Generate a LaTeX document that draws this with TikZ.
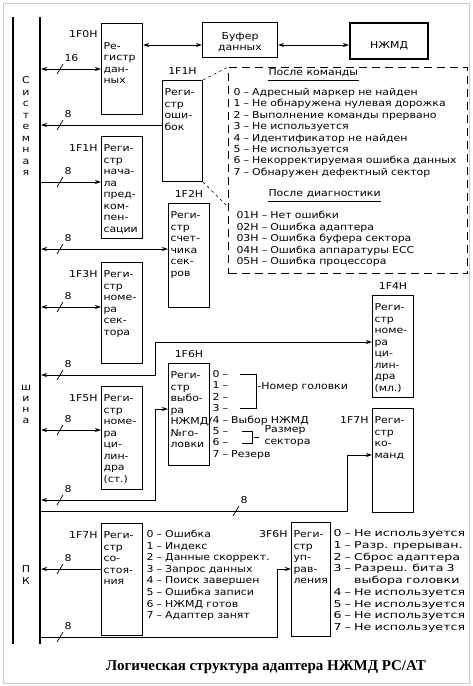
\documentclass[tikz,border=0pt]{standalone}
\usepackage{fontspec}
\setmainfont{DejaVu Sans}[FakeStretch=1.15]
\newfontfamily\capfont{Liberation Serif}
\newfontfamily\widefont{DejaVu Sans}[FakeStretch=1.33]
\usetikzlibrary{arrows.meta,positioning}

\begin{document}
\begin{tikzpicture}[x=1pt,y=-1pt,line width=1pt,
    font=\fontsize{9.5}{11.5}\selectfont,
    >={Stealth[length=6pt,width=4pt]},
    reg/.style={draw,anchor=north west,align=left,text width=37pt,inner xsep=2pt,inner ysep=3pt,text height=12pt},
    adr/.style={inner sep=0pt},
    bits/.style={anchor=base west,align=left,inner sep=0pt,text width=#1},
    letters/.style={anchor=base,align=center,inner sep=0pt,text width=10pt},
    buswire/.style={line width=2.5pt}]
    \useasboundingbox (0,0) rectangle (472,686);
    \draw[line width=0.6pt,black!20] (3,3) rectangle (469,683);

    \draw[buswire] (13,17) -- (13,644);
    \draw[buswire] (40,17) -- (40,644);
    \node[letters] (sbus1) at (26,83.5) {С\\и\\с\\т\\е\\м\\н\\а\\я};
    \node[letters,font=\fontsize{9.5}{11}\selectfont] (sbus2) at (26,390.5) {ш\\и\\н\\а};
    \node[letters,font=\fontsize{9.5}{12}\selectfont] (sbus3) at (26,572.5) {П\\К};

    % registers
    \node[reg,text height=22.5pt,text depth=62.5pt] (rdat) at (101,23) {Ре-\\гистр\\дан-\\ных};
    \node[draw,anchor=north west,align=center,text width=69pt,inner sep=3pt,text height=13.5pt,text depth=15.5pt] (buf) at (202,22) {Буфер\\данных};
    \node[draw,line width=2.2pt,anchor=north west,minimum width=78pt,inner sep=3pt,text height=22.5pt,text depth=7.5pt] (hdd) at (349,22) {НЖМД};
    \node[reg,text width=36pt,text depth=83pt] (rerr) at (162,80) {Реги-\\стр\\оши-\\бок};
    \node[reg,text depth=84pt] (rpre) at (101,136) {Реги-\\стр\\нача-\\ла\\пред-\\ком-\\пен-\\сации};
    \node[reg,text depth=86pt] (rsec) at (168,203) {Реги-\\стр\\счет-\\чика\\сек-\\ров};
    \node[reg,text depth=83pt] (rsnum) at (101,262) {Реги-\\стр\\номе-\\ра\\сек-\\тора};
    \node[reg,text depth=84pt] (rcyllo) at (372,295) {Реги-\\стр\\номе-\\ра\\ци-\\лин-\\дра\\(мл.)};
    \node[reg,text depth=85pt] (rcylhi) at (101,386) {Реги-\\стр\\номе-\\ра\\ци-\\лин-\\дра\\(ст.)};
    \node[reg,text depth=84pt] (rdrv) at (168,363) {Реги-\\стр\\выбо-\\ра\\НЖМД/\\№го-\\ловки};
    \node[reg,text depth=86pt] (rcmd) at (372,408) {Реги-\\стр\\ко-\\манд};
    \node[reg,text depth=94pt] (rstat) at (101,523) {Реги-\\стр\\со-\\стоя-\\ния};
    \node[reg,text width=35pt,text depth=96pt] (rctl) at (291,522) {Реги-\\стр\\уп-\\рав-\\ления};

    \node[adr,anchor=base east] (a1f0) at (98,37.5) {1F0H};
    \node[adr,above=5pt of rerr] (a1f1e) {1F1H};
    \node[adr,anchor=base east] (a1f1p) at ([xshift=-3pt]rpre.base west) {1F1H};
    \node[adr,above=5pt of rsec] (a1f2) {1F2H};
    \node[adr,anchor=base east] (a1f3) at ([xshift=-3pt]rsnum.base west) {1F3H};
    \node[adr,above=5pt of rcyllo] (a1f4) {1F4H};
    \node[adr,anchor=base east] (a1f5) at ([xshift=-3pt]rcylhi.base west) {1F5H};
    \node[adr,above=5pt of rdrv] (a1f6) {1F6H};
    \node[adr,anchor=base east] (a1f7c) at ([xshift=-3pt]rcmd.base west) {1F7H};
    \node[adr,anchor=base east] (a1f7s) at ([xshift=-3pt]rstat.base west) {1F7H};
    \node[adr,anchor=base east] (a3f6) at ([xshift=-3pt]rctl.base west) {3F6H};

    % error codes
    \node[draw,dash pattern=on 8pt off 5pt,anchor=north west,minimum width=239pt,minimum height=206pt,inner sep=0pt] (elist) at (228,67) {};
    \draw[line width=0.5pt,dashed] (rerr.north east) -- (elist.north west);
    \draw[line width=0.5pt,dashed] (rerr.south east) -- (elist.west |- 0,207);
    \node[adr,anchor=base west] (hcmd) at (268,75.5) {После команды};
    \draw[line width=0.6pt] ([yshift=-4.5pt]hcmd.base west) -- ([yshift=-4.5pt]hcmd.base east);
    \node[bits=232pt,font=\fontsize{9.5}{11.4}\selectfont] (ecmd) at (233,95.5) {0 – Адресный маркер не найден\\1 – Не обнаружена нулевая дорожка\\2 – Выполнение команды прервано\\3 – Не используется\\4 – Идентификатор не найден\\5 – Не используется\\6 – Некорректируемая ошибка данных\\7 – Обнаружен дефектный сектор};
    \node[adr,anchor=base west] (hdiag) at (268,196.5) {После диагностики};
    \draw[line width=0.6pt] ([yshift=-4.5pt]hdiag.base west) -- ([yshift=-4.5pt]hdiag.base east);
    \node[bits=200pt] (ediag) at (236,218.5) {01H – Нет ошибки\\02H – Ошибка адаптера\\03H – Ошибка буфера сектора\\04H – Ошибка аппаратуры ECC\\05H – Ошибка процессора};

    % drive/head bits
    \node[bits=100pt,font=\fontsize{9.5}{11.4}\selectfont] (bdrv) at (212,377.5) {0 –\\1 –\\2 –\\3 –\\4 – Выбор НЖМД\\5 –\\6 –\\7 – Резерв};
    \draw[line width=0.7pt] (240,374) -| (256,408) -- (240,408);
    \node[adr,anchor=west] (nhead) at (257,387) {-Номер головки};
    \draw[line width=0.7pt] (242,431) -| (252,443) -- (242,443);
    \draw[line width=0.7pt] (254,437) -- (259,437);
    \node[adr,anchor=west,align=left] (nsize) at (264,436) {Размер\\сектора};

    \node[bits=140pt,font=\fontsize{9.5}{11.6}\selectfont] (bstat) at (146,537.5) {0 – Ошибка\\1 – Индекс\\2 – Данные скоррект.\\3 – Запрос данных\\4 – Поиск завершен\\5 – Ошибка записи\\6 – НЖМД готов\\7 – Адаптер занят};
    \node[bits=140pt,font=\widefont\fontsize{9.5}{11.75}\selectfont] (bctl) at (333,536.5) {0 – Не используется\\1 – Разр. прерыван.\\2 – Сброс адаптера\\3 – Разреш. бита 3\\\phantom{3 – }выбора головки\\4 – Не используется\\5 – Не используется\\6 – Не используется\\7 – Не используется};

    % bus links
    \coordinate (b0) at (41,69);
    \coordinate (b1) at (41,125);
    \coordinate (b2) at (41,182);
    \coordinate (b3) at (41,249);
    \coordinate (b4) at (41,307);
    \coordinate (b5) at (41,375);
    \coordinate (b6) at (41,430);
    \coordinate (b7) at (41,500);
    \coordinate (b8) at (41,511);
    \coordinate (b9) at (41,569);
    \coordinate (b10) at (41,637);
    \coordinate (c5) at (155,342);
    \coordinate (c7) at (155,409);
    \coordinate (c8) at (347,455);
    \coordinate (c10) at (277,569);

    \draw[<->] (rdat.east |- 0,45) -- (buf.west |- 0,45);
    \draw[<->] (buf.east |- 0,45) -- (hdd.west |- 0,45);
    \draw[<->] (b0) -- (rdat.west |- b0);
    \draw[<-] (b1) -- (rerr.west |- b1);
    \draw[->] (b2) -- (rpre.west |- b2);
    \draw[<->] (b3) -- (rsec.west |- b3);
    \draw[<->] (b4) -- (rsnum.west |- b4);
    \draw[<->] (b5) -| (c5) -- (rcyllo.west |- c5);
    \draw[<->] (b6) -- (rcylhi.west |- b6);
    \draw[<->] (b7) -| (c7) -- (rdrv.west |- c7);
    \draw[->] (b8) -| (c8) -- (rcmd.west |- c8);
    \draw[<-] (b9) -- (rstat.west |- b9);
    \draw[->] (b10) -| (c10) -- (rctl.west |- c10);

    \foreach \y/\w [count=\i] in {69/16,125/8,182/8,249/8,307/8,375/8,430/8,500/8,569/8,637/8} {
        \draw[line width=0.7pt] (57,\y+5) -- (63,\y-5);
        \node[adr,anchor=west] (w\i) at (64,\y-11) {\w};
    }
    \draw[line width=0.7pt] (233,516) -- (239,506);
    \node[adr,anchor=west] (wcmd) at (240,500) {8};

    \node[font=\capfont\bfseries\fontsize{15}{17}\selectfont] (title) at (266,667) {Логическая структура адаптера НЖМД PC/AT};
\end{tikzpicture}
\end{document}
